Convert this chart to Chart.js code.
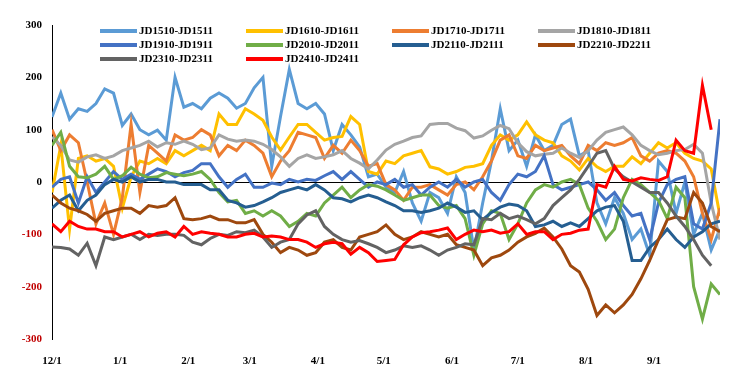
<!DOCTYPE html>
<html>
<head>
<meta charset="utf-8">
<script src="https://cdn.jsdelivr.net/npm/chart.js@4.4.0/dist/chart.umd.min.js"></script>
<style>
  body { margin: 0; background: #fff; }
  #wrap { position: relative; width: 739px; height: 375px; }
  #legend { position: absolute; left: 0; top: 0; }
  .item { position: absolute; height: 14px; font: bold 11px "Liberation Serif", "Times New Roman", serif; color: #000; white-space: nowrap; }
  .item .swatch { position: absolute; left: 0; top: 6px; width: 37px; height: 4px; }
  .item .label { position: absolute; left: 39px; top: 0; line-height: 14px; }
</style>
</head>
<body>
<div id="wrap">
  <canvas id="chart" width="739" height="375"></canvas>
  <div id="legend"></div>
</div>
<script>
// day offsets from 12/1, one point every 4 days
const days = [0,4,8,12,16,20,24,28,32,36,40,44,48,52,56,60,64,68,72,76,
  80,84,88,92,96,100,104,108,112,116,120,124,128,132,136,140,144,148,152,156,
  160,164,168,172,176,180,184,188,192,196,200,204,208,212,216,220,224,228,232,236,
  240,244,248,252,256,260,264,268,272,276,280,284,288,292,296,300,304];

const monthLabels = ['12/1','1/1','2/1','3/1','4/1','5/1','6/1','7/1','8/1','9/1'];
const monthDays = [0,31,62,90,121,151,182,212,243,274];

const names = ['JD1510-JD1511','JD1610-JD1611','JD1710-JD1711','JD1810-JD1811',
  'JD1910-JD1911','JD2010-JD2011','JD2110-JD2111','JD2210-JD2211',
  'JD2310-JD2311','JD2410-JD2411'];
const colors = ['#5B9BD5','#FFC000','#ED7D31','#A5A5A5','#4472C4','#70AD47','#255E91','#9E480E','#636363','#FF0000'];

const jd1510 = [124,170,120,140,135,150,178,170,108,130,
  100,90,99,80,200,143,150,140,160,170,
  160,141,150,180,200,30,125,215,150,140,
  150,130,60,110,90,67,10,15,-10,-20,
  20,-40,-75,-20,-30,-60,10,-20,-130,-40,
  40,140,60,80,30,90,60,70,110,120,
  50,60,-40,-80,-30,-60,-110,-90,-140,40,
  20,-60,0,-100,-60,-130,-90];
const jd1610 = [-20,70,-90,45,50,40,45,30,-50,10,
  40,35,45,35,60,50,60,70,60,130,
  110,110,140,130,118,86,61,86,110,110,
  95,80,85,87,125,110,20,15,40,35,
  50,55,60,29,25,15,20,28,30,35,
  70,90,80,90,115,90,80,75,50,40,
  23,45,29,20,30,30,48,35,55,75,
  65,75,55,45,40,25,-65];
const jd1710 = [100,60,90,75,0,-80,-40,-100,-30,110,
  -20,70,55,40,90,80,85,100,90,50,
  70,60,80,70,55,10,40,60,95,90,
  85,45,70,55,80,60,30,35,-5,-15,
  -35,-10,-10,-5,-15,-25,-5,0,-15,10,
  40,80,90,50,45,70,60,65,70,50,
  35,70,60,75,70,75,85,50,40,55,
  60,55,40,10,-60,-110,-50];
const jd1810 = [86,70,42,38,48,52,45,50,60,65,
  70,78,67,75,72,78,72,62,65,90,
  82,78,80,78,72,62,48,30,45,52,
  45,48,52,60,45,36,25,42,61,72,
  78,85,88,110,112,112,103,98,84,88,
  99,108,102,75,58,50,53,55,65,55,
  47,60,80,95,100,105,90,70,60,52,
  55,60,62,72,55,-40,-110];
const jd1910 = [-10,5,10,-40,10,-20,0,20,5,15,
  5,15,25,20,10,18,22,35,35,10,
  -10,5,15,-10,-10,-2,-5,5,0,5,
  3,12,20,5,20,5,-10,0,-5,5,
  -10,-5,-25,-10,0,-10,5,-10,0,5,
  -20,-35,-5,15,10,20,50,-5,-15,-10,
  -5,0,-15,-35,-20,-45,-65,-60,-110,-40,
  -5,5,10,-80,-90,-40,120];
const jd2010 = [70,95,30,10,8,15,30,5,12,28,
  15,8,10,18,15,12,15,20,5,-20,
  -38,-35,-60,-55,-65,-55,-65,-85,-75,-60,
  -65,-40,-25,-10,-30,-15,-5,-8,-15,-25,
  -35,-30,-25,-25,-45,-50,-45,-70,-140,-80,
  -55,-60,-110,-80,-40,-15,-5,-10,0,5,
  -5,-50,-75,-110,-90,-30,5,-5,-20,-35,
  -70,-10,-30,-200,-262,-195,-215];
const jd2110 = [-50,-35,-25,-55,-35,-25,-5,5,0,10,
  0,5,5,0,0,-5,-5,-5,-15,-15,
  -35,-40,-48,-45,-38,-30,-20,-15,-10,-15,
  -5,-15,-30,-32,-38,-30,-25,-30,-38,-45,
  -55,-55,-58,-55,-50,-40,-48,-58,-55,-72,
  -58,-48,-42,-45,-55,-85,-82,-75,-85,-78,
  -85,-70,-55,-48,-45,-75,-150,-150,-125,-110,
  -90,-110,-125,-105,-95,-80,-75];
const jd2210 = [-25,-40,-50,-55,-62,-75,-60,-55,-50,-50,
  -60,-45,-48,-45,-30,-70,-72,-70,-65,-72,
  -72,-78,-78,-72,-100,-115,-135,-125,-130,-140,
  -135,-115,-110,-125,-130,-105,-100,-95,-82,-100,
  -110,-105,-95,-100,-105,-100,-120,-125,-130,-160,
  -145,-140,-130,-115,-105,-98,-88,-105,-128,-160,
  -172,-205,-255,-235,-250,-235,-215,-185,-150,-110,
  -72,-67,-70,-20,-40,-85,-95];
const jd2310 = [-124,-125,-128,-140,-117,-160,-105,-110,-105,-100,
  -110,-100,-102,-100,-100,-102,-115,-120,-108,-100,
  -102,-95,-97,-92,-105,-125,-115,-110,-80,-63,
  -55,-85,-100,-110,-115,-112,-118,-125,-135,-130,
  -122,-125,-122,-130,-140,-130,-125,-118,-120,-70,
  -72,-60,-70,-65,-72,-80,-70,-45,-30,-15,
  5,30,55,60,25,10,0,-10,-20,-20,
  -40,-65,-85,-110,-140,-160,null];
const jd2410 = [-80,-95,-75,-85,-90,-90,-95,-95,-105,-100,
  -95,-105,-98,-95,-105,-85,-100,-95,-98,-100,
  -105,-105,-100,-98,-105,-103,-105,-110,-110,-115,
  -125,-118,-115,-118,-138,-125,-135,-152,-150,-148,
  -120,-105,-97,-95,-92,-88,-110,-100,-92,-95,
  -92,-98,-95,-80,-100,-95,-95,-110,-100,-98,
  -92,-90,-5,-10,30,5,2,8,5,3,
  10,80,60,55,185,100,null];

const series = [jd1510, jd1610, jd1710, jd1810, jd1910, jd2010, jd2110, jd2210, jd2310, jd2410];

const font = { family: '"Liberation Serif", "Times New Roman", serif', size: 11, weight: 'bold' };

// legend, 4 columns
const legend = document.getElementById('legend');
names.forEach((name, i) => {
  const el = document.createElement('div');
  el.className = 'item';
  el.style.left = (100 + (i % 4) * 146) + 'px';
  el.style.top = (23 + Math.floor(i / 4) * 14) + 'px';
  el.innerHTML = '<span class="swatch" style="background:' + colors[i] + '"></span><span class="label">' + name + '</span>';
  legend.appendChild(el);
});

new Chart(document.getElementById('chart'), {
  type: 'line',
  data: {
    datasets: names.map((name, i) => ({
      label: name,
      data: days.map((d, j) => ({ x: d, y: series[i][j] })),
      borderColor: colors[i],
      backgroundColor: colors[i],
      borderWidth: 3,
      pointRadius: 0,
      tension: 0,
      fill: false,
      order: names.length - i
    }))
  },
  options: {
    responsive: false,
    animation: false,
    layout: { padding: { top: 25, right: 19, left: 0, bottom: 0 } },
    plugins: { legend: { display: false }, tooltip: { enabled: false } },
    scales: {
      x: {
        type: 'linear',
        min: 0,
        max: 304,
        afterBuildTicks: s => { s.ticks = monthDays.map(v => ({ value: v })); },
        afterFit: s => { s.height = 36; },
        grid: { display: false },
        border: { display: false },
        ticks: {
          autoSkip: false,
          maxRotation: 0,
          padding: 8,
          color: '#000',
          font: font,
          callback: v => monthLabels[monthDays.indexOf(v)]
        }
      },
      y: {
        min: -300,
        max: 300,
        afterFit: s => { s.width = 52; },
        ticks: {
          stepSize: 100,
          padding: 10,
          font: font,
          color: c => c.tick.value < 0 ? '#C00000' : '#000'
        },
        grid: {
          drawTicks: false,
          lineWidth: 1,
          color: c => c.tick.value === 0 ? '#000' : 'rgba(0,0,0,0)'
        },
        border: { display: true, color: '#000', width: 1 }
      }
    }
  }
});
</script>
</body>
</html>
